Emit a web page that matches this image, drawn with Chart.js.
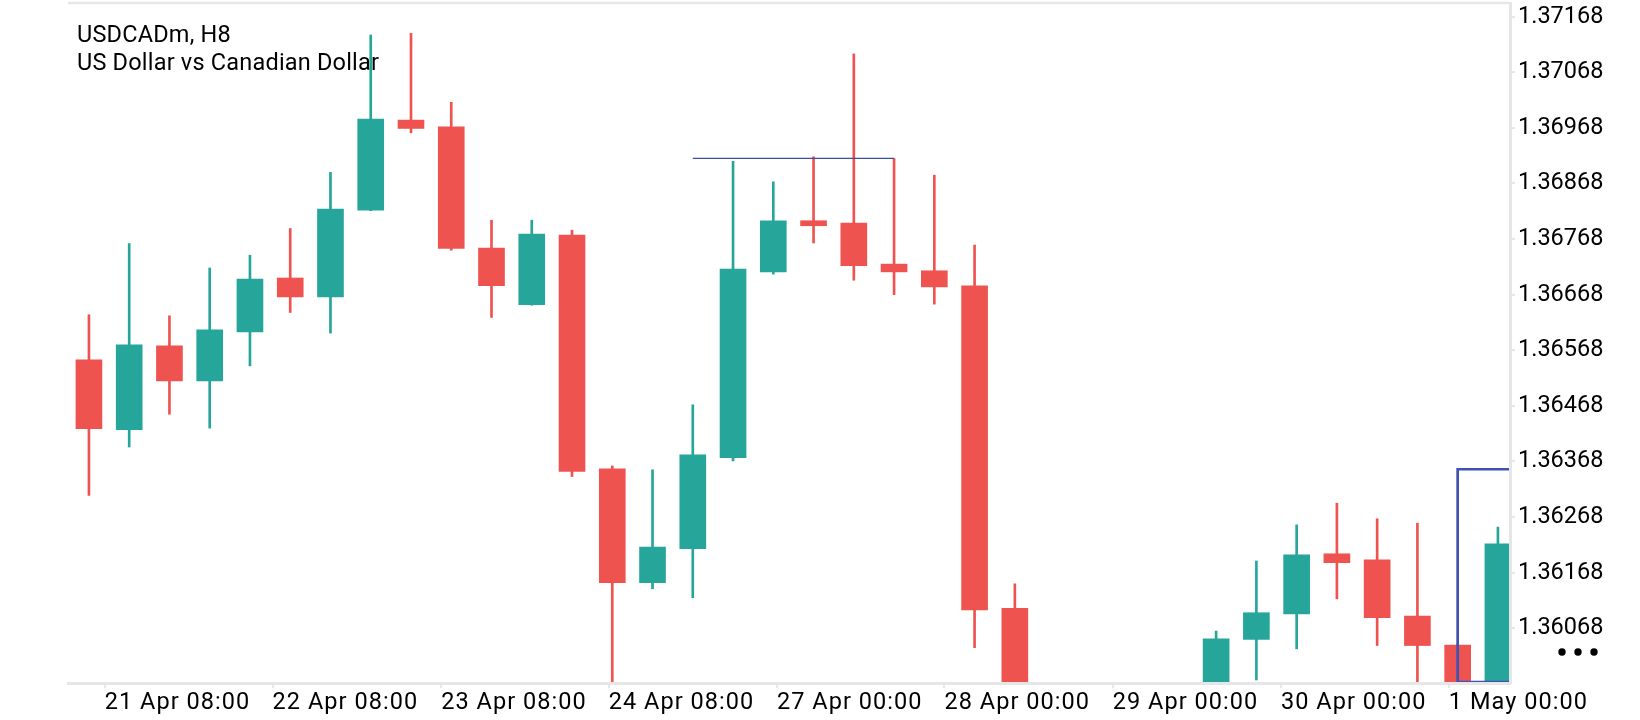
<!DOCTYPE html>
<html lang="en">
<head>
    <meta charset="UTF-8">
    <title>USDCADm, H8</title>
    <style>
        html, body {
            margin: 0;
            padding: 0;
            background: #fff;
        }
        #wrap {
            width: 1640px;
            height: 720px;
            position: relative;
        }
    </style>
    <script src="https://cdn.jsdelivr.net/npm/chart.js"></script>
</head>
<body>
    <div id="wrap">
        <canvas id="chart" width="1640" height="720"></canvas>
    </div>
    <script>
        // header text
        const titleLines = ['USDCADm, H8', 'US Dollar vs Canadian Dollar'];

        // H8 candles (25-28 sit below the visible range)
        const opens  = [1.36551, 1.36425, 1.36576, 1.36513, 1.36601, 1.36698, 1.36664, 1.36820, 1.36982, 1.36970,
                        1.36752, 1.36650, 1.36775, 1.36355, 1.36150, 1.36211, 1.36375, 1.36709, 1.36801, 1.36797,
                        1.36723, 1.36711, 1.36684, 1.36104, 1.35905, 1.35860, 1.35830, 1.35880, 1.35910, 1.36048,
                        1.36094, 1.36202, 1.36191, 1.36090, 1.36038, 1.35932];
        const highs  = [1.36632, 1.36760, 1.36630, 1.36716, 1.36739, 1.36787, 1.36888, 1.37135, 1.37138, 1.37014,
                        1.36802, 1.36802, 1.36784, 1.36360, 1.36353, 1.36470, 1.36908, 1.36871, 1.36916, 1.37101,
                        1.36913, 1.36883, 1.36757, 1.36148, 1.35950, 1.35940, 1.35920, 1.35955, 1.36063, 1.36189,
                        1.36254, 1.36293, 1.36265, 1.36257, 1.36040, 1.36250];
        const lows   = [1.36307, 1.36394, 1.36453, 1.36428, 1.36540, 1.36636, 1.36599, 1.36819, 1.36959, 1.36748,
                        1.36627, 1.36649, 1.36341, 1.35950, 1.36139, 1.36123, 1.36369, 1.36705, 1.36761, 1.36694,
                        1.36668, 1.36651, 1.36033, 1.35870, 1.35820, 1.35780, 1.35760, 1.35840, 1.35890, 1.35975,
                        1.36031, 1.36121, 1.36037, 1.35940, 1.35890, 1.35900];
        const closes = [1.36427, 1.36578, 1.36513, 1.36605, 1.36696, 1.36664, 1.36822, 1.36984, 1.36967, 1.36751,
                        1.36684, 1.36777, 1.36350, 1.36150, 1.36214, 1.36380, 1.36714, 1.36801, 1.36792, 1.36720,
                        1.36709, 1.36682, 1.36101, 1.35905, 1.35860, 1.35830, 1.35880, 1.35910, 1.36049, 1.36096,
                        1.36200, 1.36186, 1.36087, 1.36037, 1.35930, 1.36220];

        // time axis labels, placed in bar-index units
        const xTickPos    = [0.39, 4.56, 8.75, 12.91, 17.09, 21.25, 25.43, 29.61, 33.78];
        const xTickLabels = ['21 Apr 08:00', '22 Apr 08:00', '23 Apr 08:00', '24 Apr 08:00', '27 Apr 00:00',
                             '28 Apr 00:00', '29 Apr 00:00', '30 Apr 00:00', '1 May 00:00'];
        const yTicks = [1.36068, 1.36168, 1.36268, 1.36368, 1.36468, 1.36568, 1.36668, 1.36768, 1.36868, 1.36968,
                        1.37068, 1.37168];

        // visible window
        const xRange = [-0.52, 35.3];
        const yRange = [1.359696, 1.371926];

        // drawn objects
        const trendX = [15, 20];
        const trendY = [1.36913, 1.36913];
        const boxX = [36, 34, 34, 36];
        const boxY = [1.36354, 1.36354, 1.35971, 1.35971];

        const GREEN = '#26a69a';
        const RED = '#ef5350';
        const GRID = '#e6e6e6';
        const FONT = { family: 'Roboto', size: 23.5 };

        const idx = opens.map((_, i) => i);
        const candleColors = idx.map(i => closes[i] >= opens[i] ? GREEN : RED);

        const overlay = {
            id: 'overlay',
            beforeDraw(chart) {
                // the time labels are set a little wider than the price labels
                const xs = chart.scales.x;
                if (xs && !xs._spaced) {
                    const draw = xs.drawLabels;
                    xs.drawLabels = function (area) {
                        const ctx = this.ctx;
                        const prev = ctx.letterSpacing;
                        ctx.letterSpacing = '1.05px';
                        draw.call(this, area);
                        ctx.letterSpacing = prev || '0px';
                    };
                    xs._spaced = true;
                }
            },
            beforeDatasetsDraw(chart) {
                const { ctx, chartArea } = chart;
                ctx.save();
                ctx.fillStyle = '#000';
                ctx.font = '23.5px Roboto';
                ctx.letterSpacing = '0.2px';
                ctx.textBaseline = 'alphabetic';
                ctx.textAlign = 'left';
                ctx.fillText(titleLines[0], chartArea.left + 9, chartArea.top + 38.7);
                ctx.fillText(titleLines[1], chartArea.left + 9, chartArea.top + 67);
                ctx.letterSpacing = '0px';
                ctx.restore();
            },
            afterDraw(chart) {
                const { ctx, chartArea } = chart;
                ctx.save();
                // top frame line
                ctx.strokeStyle = GRID;
                ctx.lineWidth = 2.5;
                ctx.beginPath();
                ctx.moveTo(chartArea.left, chartArea.top);
                ctx.lineTo(chartArea.right, chartArea.top);
                ctx.stroke();
                // "more" dots
                ctx.fillStyle = '#000';
                [52, 68, 84].forEach(dx => {
                    ctx.beginPath();
                    ctx.arc(chartArea.right + dx, chartArea.bottom - 31, 3.7, 0, Math.PI * 2);
                    ctx.fill();
                });
                ctx.restore();
            }
        };

        new Chart(document.getElementById('chart'), {
            type: 'bar',
            data: {
                datasets: [
                    {
                        label: 'wick',
                        data: idx.map(i => ({ x: i, y: [lows[i], highs[i]] })),
                        backgroundColor: candleColors,
                        barThickness: 2,
                        grouped: false,
                        order: 3
                    },
                    {
                        label: 'body',
                        data: idx.map(i => ({ x: i, y: [opens[i], closes[i]] })),
                        backgroundColor: candleColors,
                        barThickness: 26,
                        grouped: false,
                        order: 2
                    },
                    {
                        type: 'line',
                        label: 'trend',
                        data: trendX.map((x, i) => ({ x: x, y: trendY[i] })),
                        borderColor: '#3f4d9e',
                        borderWidth: 1.3,
                        pointRadius: 0,
                        fill: false,
                        order: 1
                    },
                    {
                        type: 'line',
                        label: 'box',
                        data: boxX.map((x, i) => ({ x: x, y: boxY[i] })),
                        borderColor: '#3f51b5',
                        borderWidth: 2.7,
                        pointRadius: 0,
                        fill: false,
                        order: 0
                    }
                ]
            },
            options: {
                responsive: false,
                animation: false,
                layout: {
                    autoPadding: false,
                    padding: { left: 68, top: 3, right: 0, bottom: 0 }
                },
                plugins: {
                    legend: { display: false },
                    tooltip: { enabled: false }
                },
                scales: {
                    x: {
                        type: 'linear',
                        min: xRange[0],
                        max: xRange[1],
                        offset: false,
                        grid: {
                            drawOnChartArea: false,
                            drawTicks: true,
                            tickLength: 5,
                            color: GRID,
                            lineWidth: 2,
                            offset: false
                        },
                        border: { display: true, color: GRID, width: 3, z: 1 },
                        ticks: {
                            align: 'start',
                            maxRotation: 0,
                            autoSkip: false,
                            padding: 1,
                            color: '#000',
                            font: FONT,
                            callback: (v, i) => xTickLabels[i]
                        },
                        afterBuildTicks: s => { s.ticks = xTickPos.map(v => ({ value: v })); },
                        afterFit: s => {
                            s.height = 37;
                            s.paddingLeft = 0;
                            s.paddingRight = 0;
                        }
                    },
                    y: {
                        type: 'linear',
                        position: 'right',
                        min: yRange[0],
                        max: yRange[1],
                        grid: {
                            drawOnChartArea: false,
                            drawTicks: true,
                            tickLength: 5,
                            color: GRID,
                            lineWidth: 2
                        },
                        border: { display: true, color: GRID, width: 3, z: 1 },
                        ticks: {
                            padding: 3,
                            color: '#000',
                            font: FONT,
                            callback: v => v.toFixed(5)
                        },
                        afterBuildTicks: s => { s.ticks = yTicks.map(v => ({ value: v })); },
                        afterFit: s => {
                            s.width = 130;
                            s.paddingTop = 0;
                            s.paddingBottom = 0;
                        }
                    }
                }
            },
            plugins: [overlay]
        });
    </script>
</body>
</html>
